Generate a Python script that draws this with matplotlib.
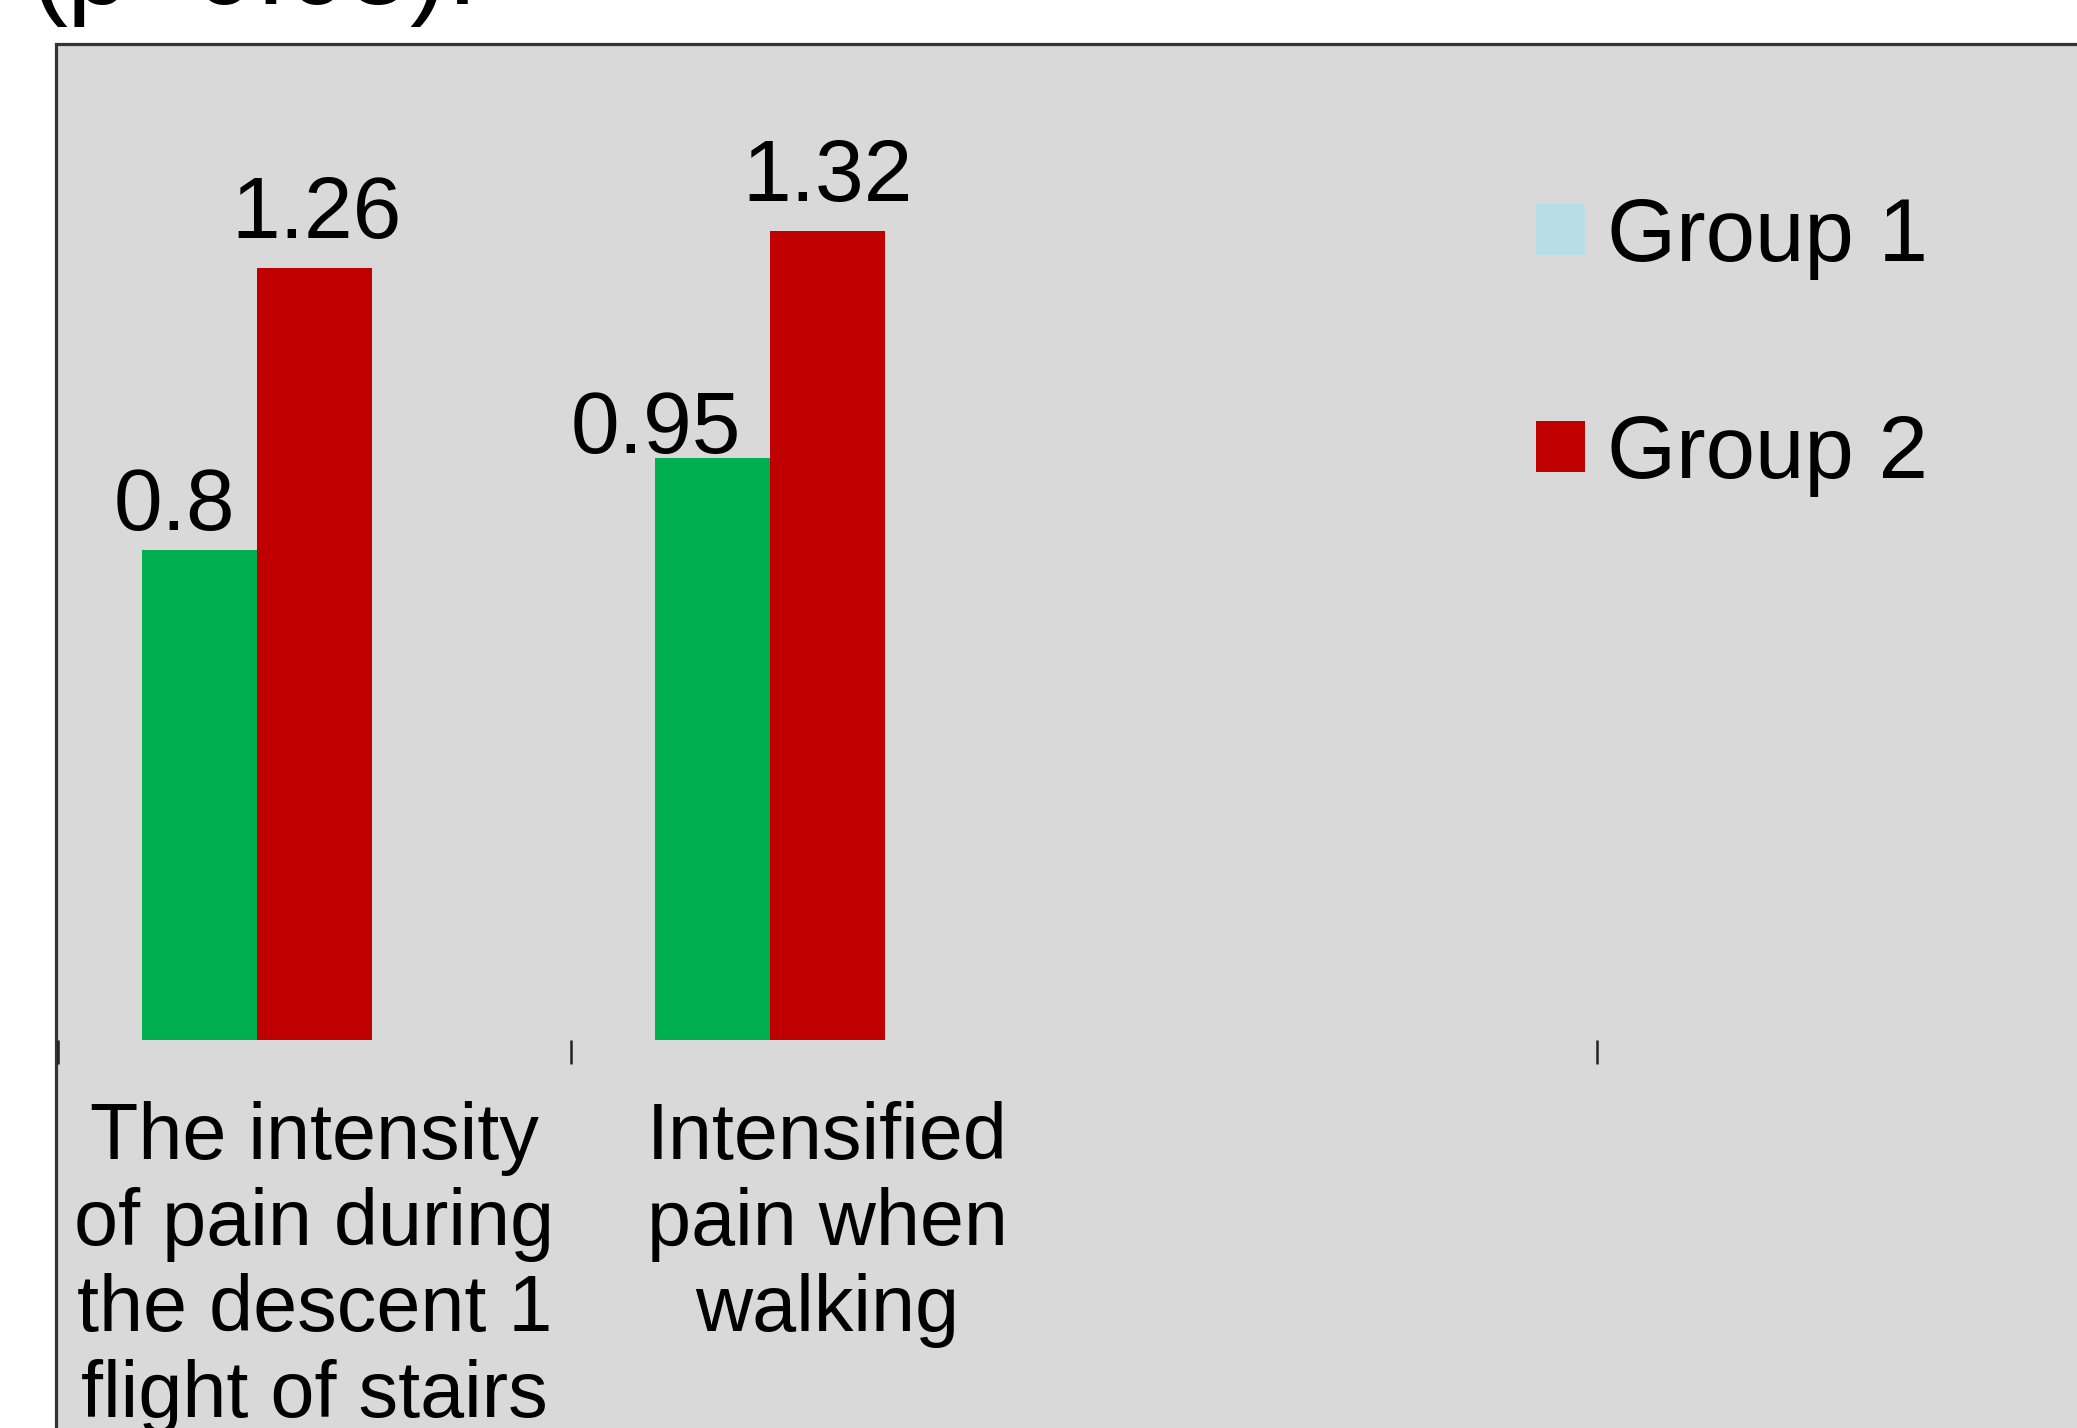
import matplotlib
matplotlib.use('Agg')
import matplotlib.pyplot as plt
from matplotlib.patches import Rectangle, Patch

plt.rcParams['font.family'] = ['Liberation Sans', 'DejaVu Sans']

# Chart data
categories = ['The intensity\nof pain during\nthe descent 1\nflight of stairs',
              'Intensified\npain when\nwalking',
              '']
group1 = [0.8, 0.95]
group2 = [1.26, 1.32]
series_names = ['Group 1', 'Group 2']
group1_legend_color = '#b7dee8'
group1_color = '#00b050'
group2_color = '#c00000'

W, H = 2077, 1428
fig = plt.figure(figsize=(W / 100, H / 100), dpi=100)
fig.patch.set_facecolor('white')

# gray chart panel, runs off the right and bottom edges
panel = Rectangle((56 / W, -0.05), 1.2, 1 - 44 / H + 0.05, transform=fig.transFigure,
                  facecolor='#d9d9d9', edgecolor='#333333', linewidth=2.3, zorder=-5)
fig.patches.append(panel)

# cut-off slide text above the chart
fig.text(30 / W, 1 - 4 / H, '(p<0.05).', fontsize=80, ha='left', va='baseline', color='black')

ax = fig.add_axes([58 / W, 1 - 1040 / H, (1597 - 58) / W, (1040 - 44) / H])
ax.set_facecolor('none')
for s in ax.spines.values():
    s.set_visible(False)

n = len(categories)
ax.set_xlim(0, n)
ax.set_ylim(0, 1.625)

bw = 0.224
centers = [i + 0.5 for i in range(len(group1))]
b1 = ax.bar([c - bw for c in centers], group1, width=bw, color=group1_color, zorder=2)
b2 = ax.bar(centers, group2, width=bw, color=group2_color, zorder=2)

# value labels (offsets in pixels)
off1 = [(-25, 20), (-57, 5)]
off2 = [(2, 30), (0, 30)]
for bars, vals, offs in [(b1, group1, off1), (b2, group2, off2)]:
    for b, v, (dx, dy) in zip(bars, vals, offs):
        ax.annotate(f'{v:g}', (b.get_x() + b.get_width() / 2, v), xytext=(dx, dy),
                    textcoords='offset pixels', ha='center', va='baseline', fontsize=63)

# category labels at centres, boundary ticks
ax.set_xticks([i + 0.5 for i in range(n)])
ax.set_xticklabels(categories, fontsize=57, linespacing=1.19)
ax.tick_params(axis='x', which='major', length=0, pad=44)
ax.set_xticks([0, 1, n], minor=True)
ax.tick_params(axis='x', which='minor', length=17, width=1.8, color='#222222', direction='out')
ax.set_yticks([])

handles = [Patch(facecolor=group1_legend_color, edgecolor='none'),
           Patch(facecolor=group2_color, edgecolor='none')]
fig.legend(handles, series_names, loc='upper left',
           bbox_to_anchor=(1536 / W, 1 - 196 / H), frameon=False, fontsize=64,
           handlelength=0.55, handleheight=0.5, handletextpad=0.25,
           labelspacing=1.5, borderpad=0, borderaxespad=0)

fig.savefig('out.png', dpi=100)
